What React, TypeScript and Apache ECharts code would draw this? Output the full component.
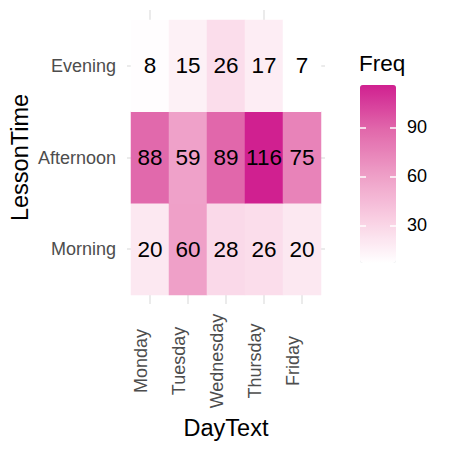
import React, { useEffect, useRef } from "react";
import * as echarts from "echarts";

const days = ["Monday", "Tuesday", "Wednesday", "Thursday", "Friday"];
const lessonTimes = ["Morning", "Afternoon", "Evening"];
const morning = [20, 60, 28, 26, 20];
const afternoon = [88, 59, 89, 116, 75];
const evening = [8, 15, 26, 17, 7];
const legendTicks = [30, 60, 90];
const freqMin = 7;
const freqMax = 116;
const palette = ["#FFFFFF", "#F9CEE2", "#EE9DC6", "#E168AB", "#D02090"];

export default function App() {
  const ref = useRef<HTMLDivElement>(null);
  useEffect(() => {
    if (!ref.current) return;
    const chart = echarts.init(ref.current, undefined, { renderer: "svg" });
    const rows = [morning, afternoon, evening];
    const data: number[][] = [];
    rows.forEach((r, yi) => r.forEach((v, xi) => data.push([xi, yi, v])));
    const grid = "#EBEBEB";
    chart.setOption({
      animation: false,
      textStyle: { fontFamily: "Liberation Sans, Arial, sans-serif" },
      title: [
        {
          text: "Freq",
          left: 359,
          top: 52,
          padding: 0,
          textStyle: { fontSize: 22.5, fontWeight: "normal", color: "#000" },
        },
      ],
      grid: [
        { left: 131, top: 20, width: 190, height: 275 },
        { left: 360, top: 85, width: 36, height: 178 },
      ],
      xAxis: [
        {
          type: "category",
          gridIndex: 0,
          data: days,
          position: "bottom",
          axisLine: { show: false },
          axisTick: { show: true, alignWithLabel: true, length: 9, lineStyle: { color: grid, width: 2 } },
          axisLabel: {
            rotate: 90,
            align: "center",
            verticalAlign: "bottom",
            margin: 66,
            fontSize: 18,
            color: "#4D4D4D",
          },
          name: "DayText",
          nameLocation: "middle",
          nameGap: 119,
          nameTextStyle: { fontSize: 23.5, color: "#000" },
          splitLine: { show: false },
        },
        {
          type: "category",
          gridIndex: 0,
          data: days,
          position: "top",
          axisLine: { show: false },
          axisTick: { show: true, alignWithLabel: true, length: 10, lineStyle: { color: grid, width: 2 } },
          axisLabel: { show: false },
          splitLine: { show: false },
        },
        {
          type: "value",
          gridIndex: 1,
          show: false,
        },
      ],
      yAxis: [
        {
          type: "category",
          gridIndex: 0,
          data: lessonTimes,
          position: "left",
          axisLine: { show: false },
          axisTick: { show: true, alignWithLabel: true, length: 4, lineStyle: { color: grid, width: 2 } },
          axisLabel: { margin: 15, fontSize: 18, color: "#4D4D4D" },
          name: "LessonTime",
          nameLocation: "middle",
          nameGap: 99,
          nameTextStyle: { fontSize: 23.5, color: "#000" },
          splitLine: { show: false },
        },
        {
          type: "category",
          gridIndex: 0,
          data: lessonTimes,
          position: "right",
          axisLine: { show: false },
          axisTick: { show: true, alignWithLabel: true, length: 4, lineStyle: { color: grid, width: 2 } },
          axisLabel: { show: false },
          splitLine: { show: false },
        },
        {
          type: "value",
          gridIndex: 1,
          min: freqMin,
          max: freqMax,
          position: "left",
          z: 10,
          axisLine: { show: false },
          axisTick: { show: true, inside: true, length: 6, customValues: legendTicks, lineStyle: { color: "#FFFFFF", width: 1.5 } },
          axisLabel: { show: false },
          splitLine: { show: false },
        },
        {
          type: "value",
          gridIndex: 1,
          min: freqMin,
          max: freqMax,
          position: "right",
          z: 10,
          axisLine: { show: false },
          axisTick: { show: true, inside: true, length: 6, customValues: legendTicks, lineStyle: { color: "#FFFFFF", width: 1.5 } },
          axisLabel: { show: true, customValues: legendTicks, margin: 11, fontSize: 18, color: "#000" },
          splitLine: { show: false },
        },
      ],
      visualMap: {
        type: "continuous",
        seriesIndex: 0,
        min: freqMin,
        max: freqMax,
        calculable: false,
        orient: "vertical",
        left: 360,
        top: 85,
        padding: 0,
        itemWidth: 36,
        itemHeight: 178,
        showLabel: false,
        inRange: { color: palette },
      },
      series: [
        {
          type: "heatmap",
          xAxisIndex: 0,
          yAxisIndex: 0,
          data,
          label: {
            show: true,
            fontSize: 22.5,
            color: "#000",
            formatter: (p: any) => String(p.value[2]),
          },
          itemStyle: { borderWidth: 0 },
          emphasis: { disabled: true },
        },
      ],
    });
    return () => chart.dispose();
  }, []);
  return <div ref={ref} style={{ width: 450, height: 450, position: "absolute", left: 0, top: 0 }} />;
}
